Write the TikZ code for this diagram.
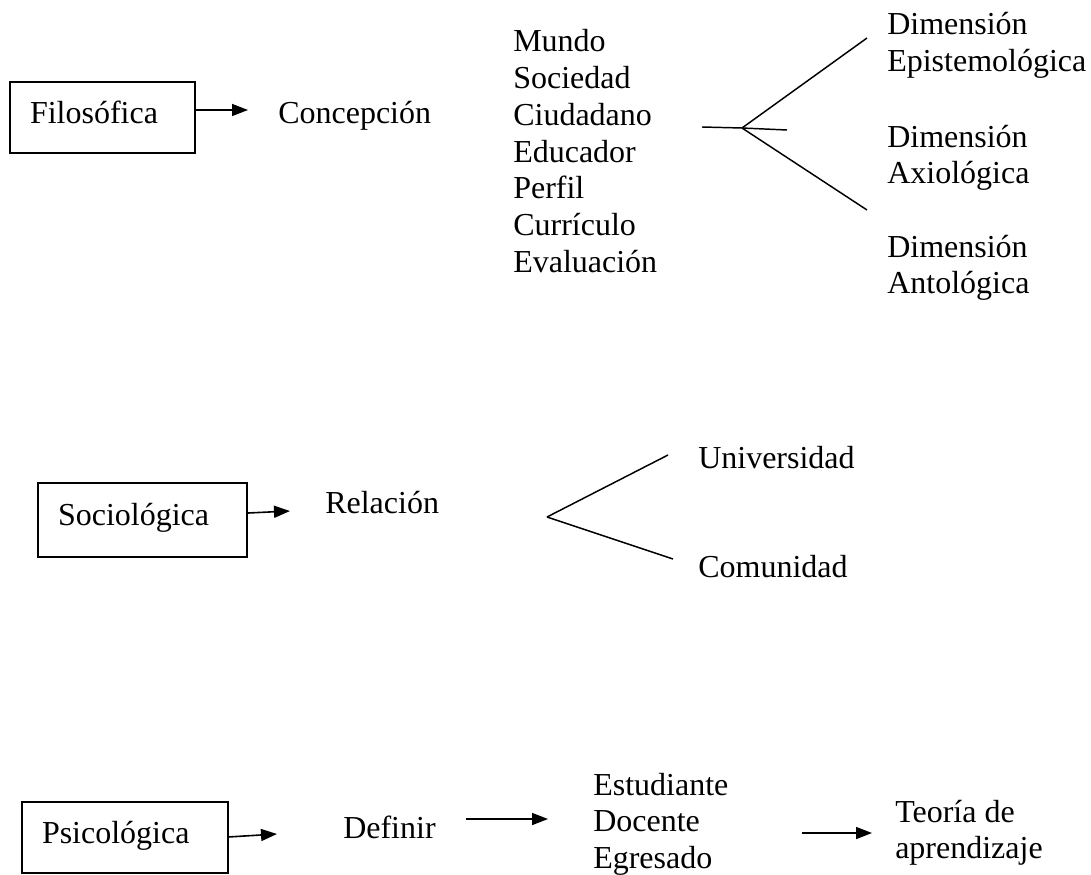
\documentclass[tikz,border=0pt]{standalone}
\usepackage{fontspec}
\setmainfont{Liberation Serif}
\usetikzlibrary{arrows.meta}
\newcommand\stk[1]{\vtop{\halign{##\hfil\cr#1\crcr}}}
\begin{document}
\begin{tikzpicture}[x=0.75pt,y=-0.75pt,
  every node/.style={font=\fontsize{24}{27.5}\selectfont, inner sep=0pt},
  txt/.style={anchor=base west},
  catbox/.style={draw, line width=0.9pt, align=left, inner xsep=15pt,
     text height=17pt, text depth=8.5pt},
  arr/.style={line width=1.2pt, -{Triangle[length=12pt,width=9pt]}},
  branch/.style={line width=1.1pt}]
\useasboundingbox (0,0) rectangle (1091,874);

% --- Filosofica ---
\node[catbox, text width=108.75pt, minimum height=53.25pt] (filo) at (102.5,117.5) {Filosófica};
\node[txt] (conc) at (278,123) {Concepción};
\coordinate (a1) at (248,110);
\draw[arr] (filo.east |- a1) -- (a1);
\node[txt] (list) at (513,52) {\stk{Mundo\cr Sociedad\cr Ciudadano\cr Educador\cr Perfil\cr Currículo\cr Evaluación}};
\coordinate (j1s) at (702,127);
\coordinate (j1) at (742,128);
\coordinate (j1e) at (787,130);
\coordinate (b1u) at (867,38);
\coordinate (b1d) at (867,210);
\draw[branch] (j1s) -- (j1) -- (j1e);
\draw[branch] (j1) -- (b1u);
\draw[branch] (j1) -- (b1d);
\node[txt] (epis) at (887,35) {\stk{Dimensión\cr Epistemológica}};
\node[txt] (axio) at (887,147) {\stk{Dimensión\cr Axiológica}};
\node[txt] (anto) at (887,257) {\stk{Dimensión\cr Antológica}};

% --- Sociologica ---
\node[catbox, text width=126.75pt, minimum height=55.5pt] (soci) at (142.5,520) {Sociológica};
\node[txt] (rela) at (325,513) {Relación};
\coordinate (a2s) at (248,513);
\coordinate (a2) at (290,511);
\draw[arr] (a2s) -- (a2);
\coordinate (j2) at (547,517);
\coordinate (b2u) at (668,455);
\coordinate (b2d) at (673,559);
\draw[branch] (j2) -- (b2u);
\draw[branch] (j2) -- (b2d);
\node[txt] (univ) at (698,468) {Universidad};
\node[txt] (comu) at (698,577) {Comunidad};

% --- Psicologica ---
\node[catbox, text width=124.5pt, minimum height=53.25pt] (psic) at (125,837.5) {Psicológica};
\node[txt] (defi) at (343,838) {Definir};
\coordinate (a3s) at (228,837);
\coordinate (a3) at (277,834);
\draw[arr] (a3s) -- (a3);
\node[txt] (estu) at (593,795) {\stk{Estudiante\cr Docente\cr Egresado}};
\coordinate (a4s) at (466,819);
\coordinate (a4) at (548,819);
\draw[arr] (a4s) -- (a4);
\node[txt] (teor) at (895,822) {\stk{Teoría de\cr aprendizaje}};
\coordinate (a5s) at (802,833);
\coordinate (a5) at (872,833);
\draw[arr] (a5s) -- (a5);
\end{tikzpicture}
\end{document}
